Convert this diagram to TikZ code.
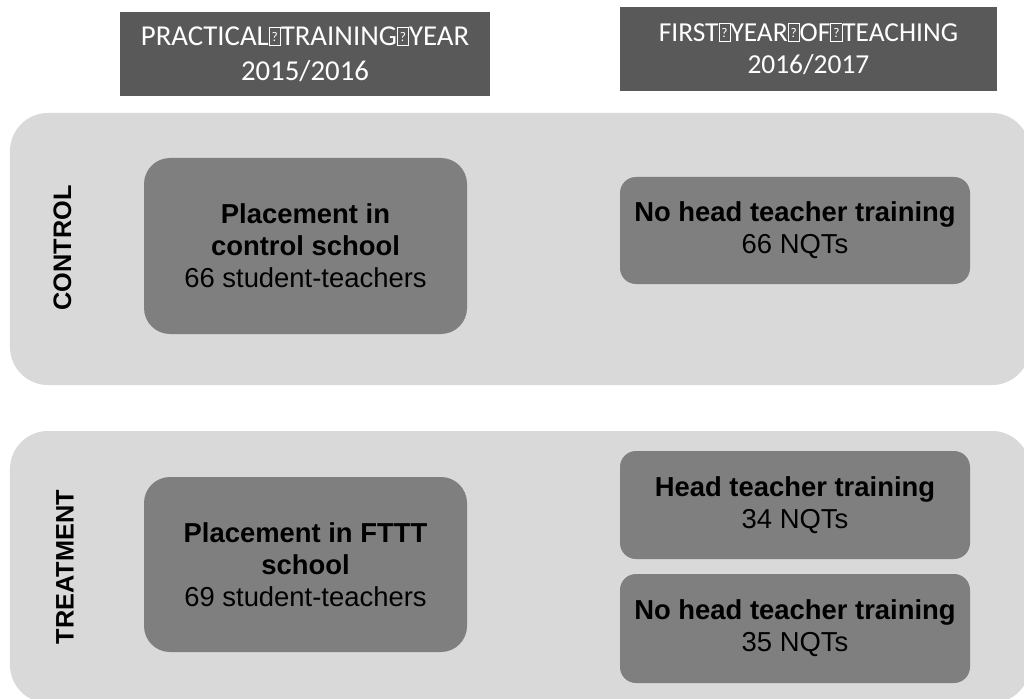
\documentclass[tikz,border=0pt]{standalone}
\usepackage{fontspec}
\setmainfont{Liberation Sans}
\newfontfamily\headfont{Carlito}

\definecolor{headgray}{HTML}{595959}
\definecolor{bandgray}{HTML}{D9D9D9}
\definecolor{boxgray}{HTML}{7F7F7F}

% 欠けた文字の箱
\newcommand{\tofu}{{\fboxsep=0pt\fboxrule=0.5pt\fbox{\makebox[7.5pt]{\rule{0pt}{12.2pt}\raisebox{2.5pt}{\fontsize{9.5}{9.5}\selectfont ?}}}}}

\tikzset{
  header/.style={fill=headgray, text=white, align=center, minimum height=2.1cm,
    inner sep=0pt, font=\headfont\fontsize{20.5}{25}\selectfont},
  band/.style={fill=bandgray, rounded corners=0.95cm, minimum width=25.5cm,
    minimum height=6.8cm, inner sep=0pt},
  placebox/.style={fill=boxgray, rounded corners=0.65cm, minimum width=8.075cm,
    minimum height=4.4cm, align=center, inner sep=0pt,
    font=\fontsize{19.5}{22.7}\selectfont},
  nqtbox/.style={fill=boxgray, rounded corners=0.4cm, minimum width=8.75cm,
    minimum height=2.7cm, align=center, inner sep=0pt,
    font=\fontsize{19.5}{22.7}\selectfont},
  arm/.style={rotate=90, font=\bfseries\fontsize{18}{18}\selectfont}
}

\begin{document}
\begin{tikzpicture}
    \useasboundingbox (0, 0) rectangle (25.6, 17.45);

    % 年度の見出し
    \node[header, minimum width=9.25cm] (year1) at (7.625, 16.1)
      {PRACTICAL\tofu TRAINING\tofu YEAR\\2015/2016};
    \node[header, minimum width=9.425cm, font=\headfont\fontsize{19.5}{23}\selectfont]
      (year2) at (20.21, 16.225)
      {FIRST\tofu YEAR\tofu OF\tofu TEACHING\\2016/2017};

    % グループの帯
    \node[band] (control) at (13.0, 11.225) {};
    \node[band] (treatment) at (13.0, 3.275) {};

    \node[arm] (controlname) at (1.5625, 11.25) {CONTROL};
    \node[arm] (treatmentname) at (1.625, 3.275) {TREATMENT};

    % 実習校
    \node[placebox] (ctrlplace) at (7.6375, 11.3)
      {\textbf{Placement in}\\\textbf{control school}\\66 student-teachers};
    \node[placebox, minimum height=4.375cm] (trtplace) at (7.6375, 3.3375)
      {\textbf{Placement in FTTT}\\\textbf{school}\\69 student-teachers};

    % 初任年度
    \node[nqtbox, minimum height=2.675cm] (ctrlnqt) at (19.875, 11.6875)
      {\textbf{No head teacher training}\\66 NQTs};
    \node[nqtbox] (trained) at (19.875, 4.825)
      {\textbf{Head teacher training}\\34 NQTs};
    \node[nqtbox, minimum height=2.725cm] (untrained) at (19.875, 1.7375)
      {\textbf{No head teacher training}\\35 NQTs};
\end{tikzpicture}
\end{document}
